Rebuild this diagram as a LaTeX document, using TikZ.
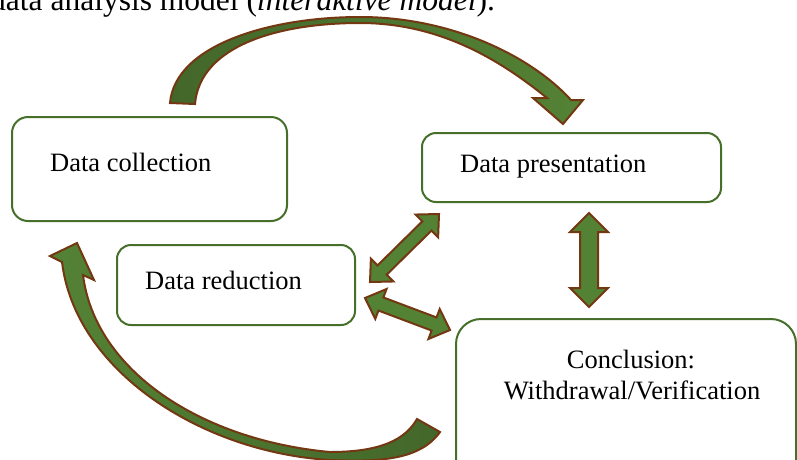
\documentclass[tikz,border=0pt]{standalone}
\usepackage{fontspec}
\setmainfont{Liberation Serif}
\usetikzlibrary{calc}
\definecolor{boxline}{HTML}{46702A}
\definecolor{arrfill}{HTML}{548235}
\definecolor{arrdark}{HTML}{43672A}
\definecolor{arrline}{HTML}{733812}
\tikzset{
  stagebox/.style={draw=boxline, line width=2pt, fill=white, inner sep=0pt},
  lbl/.style={font=\fontsize{26.5}{30}\selectfont, inner sep=0pt},
  blockarr/.style={draw=arrline, line width=2pt, fill=arrfill, line join=miter},
}
\newcommand\dblarr[5]{% A, B, half shaft, half head, head length (pt)
  \coordinate (#1h) at ($(#1)!#5pt!(#2)$);
  \coordinate (#2h) at ($(#2)!#5pt!(#1)$);
  \draw[blockarr] (#1)
    -- ($(#1h)!#4pt!90:(#2)$)
    -- ($(#1h)!#3pt!90:(#2)$)
    -- ($(#2h)!#3pt!-90:(#1)$)
    -- ($(#2h)!#4pt!-90:(#1)$)
    -- (#2)
    -- ($(#2h)!#4pt!90:(#1)$)
    -- ($(#2h)!#3pt!90:(#1)$)
    -- ($(#1h)!#3pt!-90:(#2)$)
    -- ($(#1h)!#4pt!-90:(#2)$)
    -- cycle;}
\begin{document}
\begin{tikzpicture}[x=1pt,y=-1pt]
\useasboundingbox (0,0) rectangle (797,459);
\clip (0,0) rectangle (797,459);
\fill[white] (0,0) rectangle (797,459);

% title (cut off at top, as in the reference)
\node[font=\fontsize{31.5}{34}\selectfont, inner sep=0pt, anchor=base west] (title) at (-10,10)
  {data analysis model (\textit{interaktive model}).};

% boxes
\node[stagebox, rounded corners=16pt, minimum width=275pt, minimum height=104pt] (coll) at (149.5,169) {};
\node[stagebox, rounded corners=14pt, minimum width=299pt, minimum height=69pt] (pres) at (571.5,167.5) {};
\node[stagebox, rounded corners=14pt, minimum width=238pt, minimum height=80pt] (red) at (236,285) {};
\node[stagebox, rounded corners=25pt, minimum width=340pt, minimum height=172pt] (conc) at (626,405) {};

% labels
\node[lbl, anchor=base west] (tcoll) at (50,171) {Data collection};
\node[lbl, anchor=base west] (tpres) at (460,172) {Data presentation};
\node[lbl, anchor=base west] (tred) at (145,289) {Data reduction};
\node[lbl, anchor=base] (tconc1) at (631,368) {Conclusion:};
\node[lbl, anchor=base] (tconc2) at (632,399) {Withdrawal/Verification};

% top curved arrow
\draw[draw=arrline, line width=2pt, left color=arrdark, right color=arrfill, line join=miter]
  (170,103) .. controls (175,45) and (270,17) .. (360,17)
  .. controls (450,17) and (530,55) .. (571,100)
  -- (583,100) -- (563,124) -- (533,98) -- (547,98)
  .. controls (500,60) and (440,23) .. (360,23)
  .. controls (280,23) and (200,45) .. (195,104) -- cycle;

% bottom curved arrow
\draw[draw=arrline, line width=2pt, left color=arrfill, right color=arrdark, line join=miter]
  (440,432) .. controls (420,460) and (380,462) .. (330,460)
  .. controls (200,452) and (75,370) .. (62,262)
  -- (50,256) -- (77,243) -- (94,280) -- (83,275)
  .. controls (95,370) and (200,440) .. (330,452)
  .. controls (380,452) and (405,440) .. (417,419) -- cycle;

% straight double arrows
\coordinate (v1) at (589,213);
\coordinate (v2) at (589,307);
\coordinate (d1) at (439,214);
\coordinate (d2) at (370,282);
\coordinate (e1) at (365,298);
\coordinate (e2) at (450,330);
\dblarr{v1}{v2}{9}{19}{19}
\dblarr{d1}{d2}{6.5}{16}{17}
\dblarr{e1}{e2}{7}{16}{17}
\end{tikzpicture}
\end{document}
